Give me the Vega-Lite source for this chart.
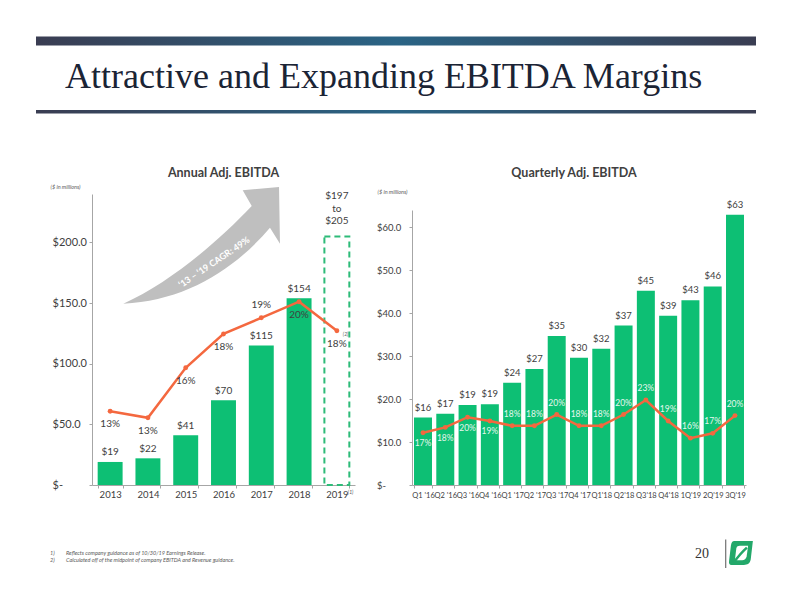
{
  "$schema": "https://vega.github.io/schema/vega-lite/v6.json",
  "background": "white",
  "padding": {"left": 36, "top": 36.5, "right": 10, "bottom": 10},
  "spacing": 39.5,
  "config": {
    "view": {"stroke": null},
    "font": "Lato",
    "axis": {"labelFont": "Lato", "titleFont": "Lato", "grid": false}
  },
  "datasets": {
    "annual": [
      {"year": "2013", "ebitda": 19, "margin": 0.134, "status": "Actual", "label": "$19"},
      {"year": "2014", "ebitda": 22, "margin": 0.130, "status": "Actual", "label": "$22"},
      {"year": "2015", "ebitda": 41, "margin": 0.161, "status": "Actual", "label": "$41"},
      {"year": "2016", "ebitda": 70, "margin": 0.182, "status": "Actual", "label": "$70"},
      {"year": "2017", "ebitda": 115, "margin": 0.192, "status": "Actual", "label": "$115"},
      {"year": "2018", "ebitda": 154, "margin": 0.202, "status": "Actual", "label": "$154"},
      {"year": "2019", "ebitda": 205, "low": 197, "margin": 0.184, "status": "Guidance", "label": "$197\nto\n$205"}
    ],
    "quarterly": [
      {"quarter": "Q1 '16", "fy": 2016, "ebitda": 15.7, "margin": 0.167},
      {"quarter": "Q2 '16", "fy": 2016, "ebitda": 16.6, "margin": 0.177},
      {"quarter": "Q3 '16", "fy": 2016, "ebitda": 18.6, "margin": 0.196},
      {"quarter": "Q4 '16", "fy": 2016, "ebitda": 18.8, "margin": 0.189},
      {"quarter": "Q1 '17", "fy": 2017, "ebitda": 23.8, "margin": 0.180},
      {"quarter": "Q2 '17", "fy": 2017, "ebitda": 27.0, "margin": 0.180},
      {"quarter": "Q3 '17", "fy": 2017, "ebitda": 34.7, "margin": 0.201},
      {"quarter": "Q4 '17", "fy": 2017, "ebitda": 29.6, "margin": 0.180},
      {"quarter": "Q1'18", "fy": 2018, "ebitda": 31.7, "margin": 0.180},
      {"quarter": "Q2'18", "fy": 2018, "ebitda": 37.1, "margin": 0.201},
      {"quarter": "Q3'18", "fy": 2018, "ebitda": 45.2, "margin": 0.228},
      {"quarter": "Q4'18", "fy": 2018, "ebitda": 39.4, "margin": 0.189},
      {"quarter": "1Q'19", "fy": 2019, "ebitda": 43.0, "margin": 0.157},
      {"quarter": "2Q'19", "fy": 2019, "ebitda": 46.2, "margin": 0.166},
      {"quarter": "3Q'19", "fy": 2019, "ebitda": 62.9, "margin": 0.199}
    ],
    "footnotes": [
      {"num": "1)", "note": "Reflects company guidance as of 10/30/19 Earnings Release."},
      {"num": "2)", "note": "Calculated off of the midpoint of company EBITDA and Revenue guidance."}
    ]
  },
  "vconcat": [
    {
      "width": 720,
      "height": 90.5,
      "title": {
        "text": "Attractive and Expanding EBITDA Margins",
        "orient": "top", "anchor": "start", "frame": "group",
        "dx": -27, "offset": -59.8, "baseline": "top",
        "font": "Liberation Serif", "fontSize": 36, "fontWeight": "normal", "color": "#1b2435"
      },
      "data": {"values": [{"element": "header"}]},
      "layer": [
        {
          "mark": {"type": "rect", "fill": {"gradient": "linear", "x1": 0, "x2": 1, "y1": 0, "y2": 0,
            "stops": [{"offset": 0, "color": "#3a3d52"}, {"offset": 0.5, "color": "#2a6485"}, {"offset": 1, "color": "#3a3d52"}]}},
          "encoding": {
            "x": {"datum": 0, "type": "quantitative", "scale": {"domain": [0, 1], "range": [-56, 664]}, "axis": null},
            "x2": {"datum": 1},
            "y": {"datum": 0, "type": "quantitative", "scale": {"domain": [0, 1], "reverse": true}, "axis": null},
            "y2": {"datum": 0.0994}
          }
        },
        {
          "mark": {"type": "rect", "fill": {"gradient": "linear", "x1": 0, "x2": 1, "y1": 0, "y2": 0,
            "stops": [{"offset": 0, "color": "#3a3d52"}, {"offset": 0.5, "color": "#2a6485"}, {"offset": 1, "color": "#3a3d52"}]}},
          "encoding": {
            "x": {"datum": 0, "type": "quantitative"},
            "x2": {"datum": 1},
            "y": {"datum": 0.812, "type": "quantitative"},
            "y2": {"datum": 0.851}
          }
        }
      ]
    },
    {
      "spacing": 21,
      "hconcat": [
        {
          "width": 263,
          "height": 291,
          "title": {"text": "Annual Adj. EBITDA", "frame": "group", "anchor": "middle", "offset": 4.5,
            "font": "Lato", "fontSize": 12.5, "fontWeight": "bold", "color": "#404040"},
          "data": {"name": "annual"},
          "layer": [
            {
              "layer": [
                {
                  "transform": [{"filter": "datum.status === 'Actual'"}],
                  "mark": {"type": "bar", "color": "#0dbf74"},
                  "encoding": {
                    "x": {"field": "year", "type": "ordinal", "sort": null,
                      "scale": {"paddingInner": 0.34, "paddingOuter": 0.15},
                      "axis": {"title": null, "labelAngle": 0, "labelFontSize": 9.5, "labelColor": "#404040", "labelPadding": 1,
                        "domainColor": "#a6a6a6", "tickColor": "#a6a6a6", "tickSize": 3, "tickBand": "extent"}},
                    "y": {"field": "ebitda", "type": "quantitative",
                      "scale": {"domain": [0, 240], "nice": false},
                      "axis": {"title": "($ in millions)", "titleAngle": 0, "titleAlign": "left", "titleBaseline": "middle",
                        "titleX": -42, "titleY": -8, "titleFontSize": 5.5, "titleFontStyle": "italic", "titleFontWeight": "normal", "titleColor": "#595959",
                        "values": [0, 50, 100, 150, 200],
                        "labelExpr": "datum.value === 0 ? '$-' : '$' + format(datum.value, '.1f')",
                        "labelAlign": "left", "labelPadding": 37, "labelFontSize": 11, "labelColor": "#404040",
                        "tickSize": 3, "tickColor": "#a6a6a6", "domainColor": "#a6a6a6",
                        "minExtent": 56, "maxExtent": 56}}
                  }
                },
                {
                  "transform": [{"filter": "datum.status === 'Guidance'"}],
                  "mark": {"type": "bar", "fill": "transparent", "stroke": "#2dbb78", "strokeWidth": 2, "strokeDash": [6, 4]},
                  "encoding": {
                    "x": {"field": "year", "type": "ordinal", "sort": null},
                    "y": {"field": "ebitda", "type": "quantitative"}
                  }
                },
                {
                  "transform": [{"filter": "datum.status === 'Actual'"}],
                  "mark": {"type": "text", "baseline": "alphabetic", "dy": -6.5, "fontSize": 10, "color": "#404040"},
                  "encoding": {
                    "x": {"field": "year", "type": "ordinal", "sort": null},
                    "y": {"field": "ebitda", "type": "quantitative"},
                    "text": {"field": "label"}
                  }
                },
                {
                  "transform": [{"filter": "datum.status === 'Guidance'"}],
                  "mark": {"type": "text", "baseline": "bottom", "dy": -35, "fontSize": 10, "lineHeight": 12.5, "lineBreak": "\n", "color": "#404040"},
                  "encoding": {
                    "x": {"field": "year", "type": "ordinal", "sort": null},
                    "y": {"field": "ebitda", "type": "quantitative"},
                    "text": {"field": "label"}
                  }
                },
                {
                  "transform": [{"filter": "datum.status === 'Guidance'"}],
                  "mark": {"type": "text", "align": "left", "baseline": "middle", "dx": 11, "dy": 7, "fontSize": 5, "fontStyle": "italic", "color": "#595959"},
                  "encoding": {
                    "x": {"field": "year", "type": "ordinal", "sort": null},
                    "y": {"datum": 0, "type": "quantitative"},
                    "text": {"value": "(1)"}
                  }
                },
                {
                  "transform": [{"filter": "datum.year === '2015'"}],
                  "mark": {"type": "point", "filled": true, "color": "#bfbfbf", "opacity": 1, "size": 25600, "xOffset": 15.95,
                    "shape": "M -0.979 0.729 C -0.208 0.696 0.417 0.296 0.854 -0.221 L 0.979 -0.021 L 0.967 -0.729 L 0.513 -0.688 L 0.626 -0.492 C 0.188 -0.029 -0.417 0.479 -0.979 0.729 Z"},
                  "encoding": {
                    "x": {"field": "year", "type": "ordinal", "sort": null},
                    "y": {"datum": 197.65, "type": "quantitative"}
                  }
                },
                {
                  "transform": [{"filter": "datum.year === '2015'"}],
                  "mark": {"type": "text", "angle": 326, "xOffset": 28.5, "align": "center", "baseline": "middle", "fontSize": 9, "fontWeight": "bold", "color": "white"},
                  "encoding": {
                    "x": {"field": "year", "type": "ordinal", "sort": null},
                    "y": {"datum": 183.7, "type": "quantitative"},
                    "text": {"value": "‘13 – ‘19 CAGR: 49%"}
                  }
                }
              ]
            },
            {
              "layer": [
                {
                  "mark": {"type": "line", "color": "#f4683f", "strokeWidth": 2.5},
                  "encoding": {
                    "x": {"field": "year", "type": "ordinal", "sort": null},
                    "y": {"field": "margin", "type": "quantitative", "scale": {"domain": [0.0883, 0.2688], "nice": false, "zero": false}, "axis": null}
                  }
                },
                {
                  "mark": {"type": "point", "filled": true, "color": "#f4683f", "opacity": 1, "size": 24},
                  "encoding": {
                    "x": {"field": "year", "type": "ordinal", "sort": null},
                    "y": {"field": "margin", "type": "quantitative"}
                  }
                },
                {
                  "transform": [{"filter": "datum.year !== '2017'"}],
                  "mark": {"type": "text", "baseline": "middle", "dy": 13, "fontSize": 10, "color": "#404040"},
                  "encoding": {
                    "x": {"field": "year", "type": "ordinal", "sort": null},
                    "y": {"field": "margin", "type": "quantitative"},
                    "text": {"field": "margin", "type": "quantitative", "format": ".0%"}
                  }
                },
                {
                  "transform": [{"filter": "datum.year === '2017'"}],
                  "mark": {"type": "text", "baseline": "middle", "dy": -13, "fontSize": 10, "color": "#404040"},
                  "encoding": {
                    "x": {"field": "year", "type": "ordinal", "sort": null},
                    "y": {"field": "margin", "type": "quantitative"},
                    "text": {"field": "margin", "type": "quantitative", "format": ".0%"}
                  }
                },
                {
                  "transform": [{"filter": "datum.year === '2019'"}],
                  "mark": {"type": "text", "align": "left", "baseline": "middle", "dx": 6, "dy": 3, "fontSize": 5, "fontStyle": "italic", "color": "#595959"},
                  "encoding": {
                    "x": {"field": "year", "type": "ordinal", "sort": null},
                    "y": {"field": "margin", "type": "quantitative"},
                    "text": {"value": "(2)"}
                  }
                }
              ]
            }
          ],
          "resolve": {"scale": {"y": "independent"}}
        },
        {
          "width": 334,
          "height": 291,
          "title": {"text": "Quarterly Adj. EBITDA", "frame": "group", "anchor": "middle", "offset": 9.5, "dx": -5,
            "font": "Lato", "fontSize": 12.5, "fontWeight": "bold", "color": "#404040"},
          "data": {"name": "quarterly"},
          "layer": [
            {
              "layer": [
                {
                  "mark": {"type": "bar", "color": "#0dbf74"},
                  "encoding": {
                    "x": {"field": "quarter", "type": "ordinal", "sort": null,
                      "scale": {"paddingInner": 0.193, "paddingOuter": 0.09},
                      "axis": {"title": null, "labelAngle": 0, "labelFontSize": 7.5, "labelColor": "#404040", "labelPadding": 3, "labelOverlap": false,
                        "domainColor": "#a6a6a6", "tickColor": "#a6a6a6", "tickSize": 3, "tickBand": "extent"}},
                    "y": {"field": "ebitda", "type": "quantitative",
                      "scale": {"domain": [0, 64], "nice": false, "range": [291, 16]},
                      "axis": {"title": "($ in millions)", "titleAngle": 0, "titleAlign": "left", "titleBaseline": "middle",
                        "titleX": -35, "titleY": -3, "titleFontSize": 5.5, "titleFontStyle": "italic", "titleFontWeight": "normal", "titleColor": "#595959",
                        "values": [0, 10, 20, 30, 40, 50, 60],
                        "labelExpr": "datum.value === 0 ? '$-' : '$' + format(datum.value, '.1f')",
                        "labelAlign": "left", "labelPadding": 32.5, "labelFontSize": 9.5, "labelColor": "#404040",
                        "tickSize": 3, "tickColor": "#a6a6a6", "domainColor": "#a6a6a6",
                        "minExtent": 35, "maxExtent": 35}}
                  }
                },
                {
                  "mark": {"type": "text", "baseline": "alphabetic", "dy": -7, "fontSize": 9.5, "color": "#404040"},
                  "encoding": {
                    "x": {"field": "quarter", "type": "ordinal", "sort": null},
                    "y": {"field": "ebitda", "type": "quantitative"},
                    "text": {"field": "ebitda", "type": "quantitative", "format": "$.0f"}
                  }
                }
              ]
            },
            {
              "layer": [
                {
                  "mark": {"type": "line", "color": "#f4683f", "strokeWidth": 2.5},
                  "encoding": {
                    "x": {"field": "quarter", "type": "ordinal", "sort": null},
                    "y": {"field": "margin", "type": "quantitative", "scale": {"domain": [0.0698, 0.5818], "nice": false, "zero": false, "range": [291, 16]}, "axis": null}
                  }
                },
                {
                  "mark": {"type": "point", "filled": true, "color": "#f4683f", "opacity": 1, "size": 24},
                  "encoding": {
                    "x": {"field": "quarter", "type": "ordinal", "sort": null},
                    "y": {"field": "margin", "type": "quantitative"}
                  }
                },
                {
                  "transform": [{"filter": "datum.fy === 2016"}],
                  "mark": {"type": "text", "baseline": "middle", "dy": 10.5, "fontSize": 8.5, "color": "#e6f7ee"},
                  "encoding": {
                    "x": {"field": "quarter", "type": "ordinal", "sort": null},
                    "y": {"field": "margin", "type": "quantitative"},
                    "text": {"field": "margin", "type": "quantitative", "format": ".0%"}
                  }
                },
                {
                  "transform": [{"filter": "datum.fy !== 2016"}],
                  "mark": {"type": "text", "baseline": "middle", "dy": -12, "fontSize": 8.5, "color": "#e6f7ee"},
                  "encoding": {
                    "x": {"field": "quarter", "type": "ordinal", "sort": null},
                    "y": {"field": "margin", "type": "quantitative"},
                    "text": {"field": "margin", "type": "quantitative", "format": ".0%"}
                  }
                }
              ]
            }
          ],
          "resolve": {"scale": {"y": "independent"}}
        }
      ]
    },
    {
      "width": 720,
      "height": 28.5,
      "layer": [
        {
          "data": {"name": "footnotes"},
          "mark": {"type": "text", "align": "left", "baseline": "middle", "fontSize": 5.5, "fontStyle": "italic", "color": "#595959"},
          "encoding": {
            "x": {"datum": 0.0194, "type": "quantitative", "scale": {"domain": [0, 1], "range": [-56, 664]}, "axis": null},
            "y": {"field": "num", "type": "ordinal", "sort": null, "scale": {"type": "point", "padding": 0, "range": [13, 20]}, "axis": null},
            "text": {"field": "num"}
          }
        },
        {
          "data": {"name": "footnotes"},
          "mark": {"type": "text", "align": "left", "baseline": "middle", "fontSize": 5.5, "fontStyle": "italic", "color": "#595959"},
          "encoding": {
            "x": {"datum": 0.0417, "type": "quantitative"},
            "y": {"field": "num", "type": "ordinal", "sort": null},
            "text": {"field": "note"}
          }
        },
        {
          "data": {"values": [{"page": "20"}]},
          "mark": {"type": "text", "align": "right", "baseline": "middle", "yOffset": 0.25, "font": "Liberation Serif", "fontSize": 14, "color": "#333333"},
          "encoding": {
            "x": {"datum": 0.9347, "type": "quantitative"},
            "text": {"field": "page"}
          }
        },
        {
          "data": {"values": [{"page": "20"}]},
          "mark": {"type": "rule", "color": "#555555", "strokeWidth": 1},
          "encoding": {
            "x": {"datum": 0.958, "type": "quantitative"}
          }
        },
        {
          "data": {"values": [{"logo": "leaf"}]},
          "mark": {"type": "point", "filled": true, "color": "#23a86a", "opacity": 1, "size": 576, "yOffset": -0.75,
            "shape": "M -0.55 -1 L 1 -1 L 0.82 0.55 C 0.76 0.88 0.55 1 0.25 1 L -0.78 1 C -0.97 1 -1.02 0.85 -0.98 0.62 L -0.83 -0.62 C -0.79 -0.88 -0.7 -1 -0.55 -1 Z"},
          "encoding": {
            "x": {"datum": 0.979, "type": "quantitative"}
          }
        },
        {
          "data": {"values": [{"logo": "leaf"}]},
          "mark": {"type": "point", "filled": true, "color": "white", "opacity": 1, "size": 576, "yOffset": -0.75,
            "shape": "M -0.5 0.6 L -0.38 -0.38 C -0.34 -0.55 -0.25 -0.6 -0.08 -0.6 L 0.6 -0.6 L 0.48 0.3 C 0.43 0.5 0.3 0.6 0.1 0.6 Z"},
          "encoding": {
            "x": {"datum": 0.979, "type": "quantitative"}
          }
        },
        {
          "data": {"values": [{"logo": "leaf"}]},
          "mark": {"type": "point", "filled": false, "color": "#23a86a", "opacity": 1, "size": 576, "strokeWidth": 2.5, "yOffset": -0.75,
            "shape": "M -0.6 0.8 C -0.2 0.25 0.1 -0.1 0.5 -0.45"},
          "encoding": {
            "x": {"datum": 0.979, "type": "quantitative"}
          }
        }
      ]
    }
  ]
}
